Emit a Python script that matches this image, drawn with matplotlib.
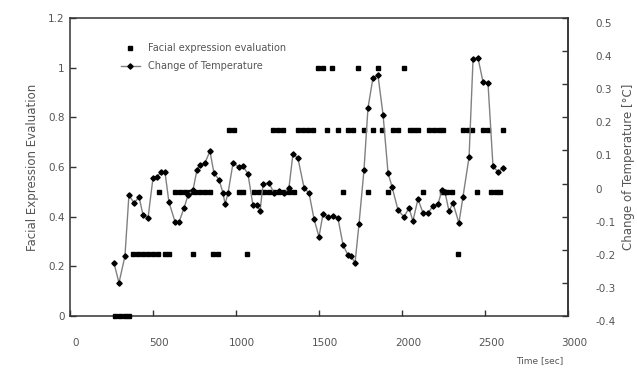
import matplotlib
matplotlib.use("Agg")
import matplotlib.pyplot as plt
from matplotlib.lines import Line2D
from matplotlib.transforms import ScaledTranslation

# Facial expression evaluation (left axis), time in seconds
face_time = [271, 301, 331, 355,
             380, 410, 440, 470, 500, 530, 572, 596, 741, 861, 892, 1066, 2337,
             536, 633, 663, 693, 723, 753, 783, 813, 843, 1018, 1042,
             1108, 1139, 1169, 1199, 1229, 1259, 1289, 1319, 1349,
             1645, 1795, 1916, 2127, 2241, 2271, 2301, 2452, 2536, 2566, 2590,
             958, 988, 1223, 1253, 1283, 1373, 1404, 1434, 1464, 1548, 1614,
             1675, 1705, 1771, 1825, 1880, 1946, 1976, 2048, 2072, 2096,
             2163, 2193, 2223, 2247, 2367, 2398, 2422, 2488, 2518, 2608,
             1494, 1524, 1578, 1735, 1855, 2012]
face_score = [0, 0, 0, 0,
              0.25, 0.25, 0.25, 0.25, 0.25, 0.25, 0.25, 0.25, 0.25, 0.25, 0.25, 0.25, 0.25,
              0.5, 0.5, 0.5, 0.5, 0.5, 0.5, 0.5, 0.5, 0.5, 0.5, 0.5,
              0.5, 0.5, 0.5, 0.5, 0.5, 0.5, 0.5, 0.5, 0.5,
              0.5, 0.5, 0.5, 0.5, 0.5, 0.5, 0.5, 0.5, 0.5, 0.5, 0.5,
              0.75, 0.75, 0.75, 0.75, 0.75, 0.75, 0.75, 0.75, 0.75, 0.75, 0.75,
              0.75, 0.75, 0.75, 0.75, 0.75, 0.75, 0.75, 0.75, 0.75, 0.75,
              0.75, 0.75, 0.75, 0.75, 0.75, 0.75, 0.75, 0.75, 0.75, 0.75,
              1, 1, 1, 1, 1, 1]

# Change of temperature (right axis)
temp_time = [265, 295, 331, 355, 386, 416, 440, 470, 500, 524,
             548, 572, 596, 633, 657, 687, 711, 741, 765, 783,
             813, 843, 867, 898, 922, 934, 952, 982, 1018, 1042,
             1072, 1102, 1127, 1145, 1163, 1199, 1229, 1259, 1289, 1319,
             1343, 1373, 1410, 1440, 1470, 1500, 1524, 1554, 1584, 1614,
             1645, 1675, 1693, 1717, 1741, 1771, 1795, 1825, 1855, 1886,
             1916, 1940, 1976, 2012, 2042, 2066, 2096, 2127, 2157, 2187,
             2217, 2241, 2259, 2283, 2307, 2343, 2367, 2404, 2428, 2458,
             2488, 2518, 2548, 2578, 2608]
temp_change = [-0.240, -0.300, -0.219, -0.035, -0.059, -0.041, -0.095, -0.104, 0.017, 0.020,
               0.035, 0.035, -0.056, -0.116, -0.116, -0.074, -0.035, -0.019, 0.041, 0.056,
               0.062, 0.098, 0.032, 0.011, -0.029, -0.062, -0.029, 0.062, 0.050, 0.053,
               0.029, -0.065, -0.065, -0.083, -0.001, 0.002, -0.029, -0.022, -0.029, -0.013,
               0.089, 0.077, -0.013, -0.029, -0.107, -0.161, -0.092, -0.101, -0.098, -0.104,
               -0.186, -0.216, -0.219, -0.240, -0.122, 0.041, 0.228, 0.319, 0.328, 0.207,
               0.032, -0.010, -0.080, -0.101, -0.074, -0.113, -0.047, -0.089, -0.089, -0.068,
               -0.062, -0.019, -0.026, -0.083, -0.059, -0.119, -0.041, 0.080, 0.376, 0.379,
               0.307, 0.304, 0.053, 0.035, 0.047]

x_ticks = [0, 500, 1000, 1500, 2000, 2500, 3000]
left_ticks = [0, 0.2, 0.4, 0.6, 0.8, 1.0, 1.2]
left_labels = ["0", "0.2", "0.4", "0.6", "0.8", "1", "1.2"]
right_ticks = [-0.4, -0.3, -0.2, -0.1, 0.0, 0.1, 0.2, 0.3, 0.4, 0.5]
right_labels = ["-0.4", "-0.3", "-0.2", "-0.1", "0", "0.1", "0.2", "0.3", "0.4", "0.5"]

TXT = "#555555"
plt.rcParams["font.family"] = ["Liberation Sans Narrow", "DejaVu Sans"]

fig = plt.figure(figsize=(6.37, 3.70), dpi=100)
ax = fig.add_axes([70 / 637, 54 / 370, 498 / 637, 298 / 370])
ax2 = ax.twinx()

ax.plot(face_time, face_score, ls="none", marker="s", ms=3.3,
        color="black", zorder=3, clip_on=False)
ax2.plot(temp_time, temp_change, color="#808080", lw=1.0,
         marker="D", ms=2.7, mfc="black", mec="black", zorder=4)

ax.set_xlim(0, 3000)
ax.set_ylim(0, 1.2)
ax2.set_ylim(-0.4, 0.5)

ax.set_xticks(x_ticks)
ax.set_xticklabels([str(v) for v in x_ticks])
ax.set_yticks(left_ticks)
ax.set_yticklabels(left_labels)
ax2.set_yticks(right_ticks)
ax2.set_yticklabels(right_labels)

ax.tick_params(axis="x", direction="in", length=4, width=1, pad=16,
               labelsize=7.5, labelcolor=TXT, color="#333333")
ax.tick_params(axis="y", direction="in", length=4, width=1, pad=4,
               labelsize=7.5, labelcolor=TXT, color="#333333")
ax2.tick_params(axis="y", direction="in", length=4, width=1, pad=20,
                labelsize=7.5, labelcolor=TXT, color="#333333")

# nudge tick labels the way the original layout sets them
for lab in ax.get_xticklabels():
    lab.set_transform(lab.get_transform() + ScaledTranslation(6 / 100, 0, fig.dpi_scale_trans))
for lab in ax2.get_yticklabels():
    lab.set_transform(lab.get_transform() + ScaledTranslation(0, -5 / 100, fig.dpi_scale_trans))

# frame: the twin axis only keeps its right edge so the zero-score squares sit on top
for name, sp in ax.spines.items():
    sp.set_color("#333333")
    sp.set_linewidth(1.1)
for name, sp in ax2.spines.items():
    if name == "right":
        sp.set_color("#333333")
        sp.set_linewidth(1.1)
    else:
        sp.set_visible(False)

ax.set_ylabel("Facial Expression Evaluation", fontsize=8.5, color=TXT, labelpad=6)
ax2.set_ylabel("Change of Temperature [\u00b0C]", fontsize=8.5, color=TXT, labelpad=4)
fig.text(540 / 637, 1 - 361 / 370, "Time [sec]", fontsize=6.5, color=TXT,
         ha="center", va="center")

leg_line = Line2D([], [], color="#808080", lw=1.0, marker="D", ms=2.7,
                  mfc="black", mec="black")
leg_sq = Line2D([], [], ls="none", marker="s", ms=3.3, color="black")
ax.legend([leg_sq, leg_line], ["Facial expression evaluation", "Change of Temperature"],
          loc="upper left", bbox_to_anchor=(0.085, 0.945), frameon=False,
          fontsize=7, handlelength=1.9, handletextpad=0.9, labelspacing=0.85,
          labelcolor=TXT)

fig.savefig("out.png", dpi=100)
